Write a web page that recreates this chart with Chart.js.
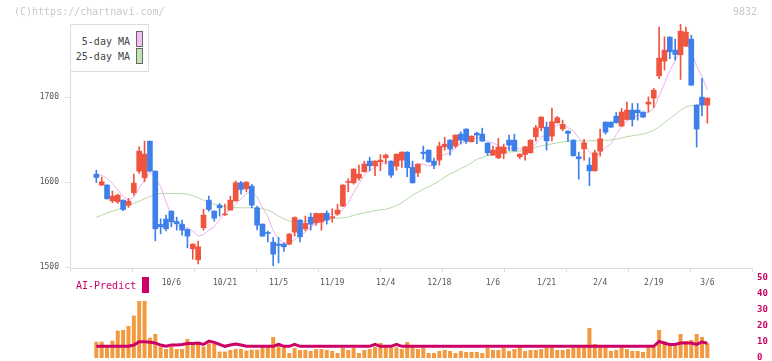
<!DOCTYPE html>
<html>
<head>
<meta charset="utf-8">
<script src="https://cdn.jsdelivr.net/npm/chart.js@4.4.1/dist/chart.umd.min.js"></script>
<style>
  body { margin: 0; background: #fff; }
  #wrap { position: relative; width: 772px; height: 361px; overflow: hidden; font-family: "DejaVu Sans Mono", monospace; }
  canvas { position: absolute; left: 0; top: 0; }
  .txt { position: absolute; white-space: pre; font-size: 10px; line-height: 12px; }
  .gray { color: #c8c8c8; }
  .sw { position: absolute; width: 5px; height: 14px; border: 1px solid #666; }
</style>
</head>
<body>
<div id="wrap">
  <canvas id="priceChart" width="772" height="361"></canvas>
  <canvas id="volChart" width="772" height="390"></canvas>
  <div class="txt gray" style="left:14px;top:6px">(C)https://chartnavi.com/</div>
  <div class="txt gray" style="left:733px;top:6px">9832</div>
  <div style="position:absolute;left:70px;top:24px;width:77px;height:46px;border:1px solid #ddd;background:#fff"></div>
  <div class="txt" style="right:642px;top:36px;color:#444">5-day MA</div>
  <div class="txt" style="right:642px;top:51px;color:#444">25-day MA</div>
  <div class="sw" style="left:136px;top:31px;background:#f0c0f0"></div>
  <div class="sw" style="left:136px;top:48px;background:#c4e2b4"></div>
  <div class="txt" style="left:76px;top:280px;color:#cc0066">AI-Predict</div>
  <div style="position:absolute;left:142px;top:277px;width:7px;height:16px;background:#cc0066"></div>
</div>
<script>
const tickLabels = ['10/6','10/21','11/5','11/19','12/4','12/18','1/6','1/21','2/4','2/19','3/6'];
const priceTicks = [1500, 1600, 1700];

const opens = [1609.4,1596.5,1596.5,1578.0,1576.9,1578.8,1572.9,1587.5,1612.9,1605.1,
  1648.2,1612.9,1550.2,1556.5,1565.9,1553.7,1550.6,1544.3,1521.6,1508.6,
  1546.3,1578.8,1565.9,1572.9,1561.5,1567.1,1578.0,1599.2,1592.2,1595.3,
  1569.8,1550.6,1540.8,1529.4,1527.1,1527.1,1527.1,1541.2,1555.3,1545.1,
  1558.8,1552.2,1553.3,1563.5,1558.0,1562.4,1571.8,1599.6,1599.2,1604.7,
  1612.2,1624.7,1619.2,1623.9,1628.6,1624.7,1618.8,1625.9,1635.3,1617.3,
  1611.0,1635.3,1637.6,1624.7,1625.9,1641.6,1649.4,1642.4,1656.5,1662.4,
  1647.5,1657.6,1656.5,1645.9,1631.8,1628.6,1633.7,1649.4,1649.4,1629.8,
  1632.5,1634.5,1653.3,1663.9,1664.7,1654.1,1669.8,1662.7,1660.0,1649.4,
  1629.8,1639.2,1620.0,1613.3,1636.5,1670.6,1670.6,1677.6,1665.9,1673.7,
  1684.7,1684.7,1682.4,1691.8,1698.8,1725.1,1742.4,1770.6,1755.3,1749.8,
  1760.0,1768.2,1690.6,1700.0,1690.6];
const highs = [1614.1,1605.9,1597.0,1589.4,1585.9,1579.2,1580.8,1609.4,1641.6,1648.2,
  1648.2,1613.3,1556.9,1561.2,1566.3,1558.8,1555.3,1545.0,1527.5,1530.6,
  1568.2,1583.5,1566.3,1574.9,1574.1,1583.5,1601.2,1600.8,1600.5,1597.3,
  1571.8,1551.0,1542.4,1534.9,1534.9,1528.6,1539.6,1559.2,1556.1,1560.0,
  1563.5,1563.5,1563.5,1566.3,1568.6,1574.1,1597.0,1603.9,1615.7,1620.0,
  1624.7,1629.4,1625.1,1632.5,1633.0,1625.1,1633.3,1635.7,1635.7,1624.7,
  1621.6,1642.4,1638.0,1628.2,1647.1,1652.9,1650.0,1655.7,1659.2,1662.7,
  1654.5,1658.8,1663.5,1646.3,1642.4,1651.4,1644.7,1655.3,1656.5,1633.3,
  1642.0,1649.8,1666.7,1677.0,1670.6,1687.1,1677.3,1672.9,1660.4,1649.8,
  1635.3,1650.2,1628.6,1637.6,1662.4,1671.0,1671.0,1682.0,1686.7,1694.1,
  1692.5,1692.5,1682.8,1700.4,1710.2,1782.4,1771.0,1771.0,1768.2,1785.5,
  1782.4,1772.9,1691.0,1722.0,1699.2];
const lows = [1599.6,1595.7,1580.0,1575.7,1574.9,1566.3,1570.2,1584.7,1610.2,1600.4,
  1612.9,1531.0,1539.2,1542.7,1547.5,1543.5,1537.6,1522.7,1509.4,1503.9,
  1543.5,1565.9,1554.1,1560.0,1560.8,1567.0,1577.6,1585.9,1588.6,1569.8,
  1543.9,1536.1,1529.8,1501.6,1505.1,1518.4,1526.3,1536.5,1529.8,1542.7,
  1543.5,1549.4,1543.5,1550.6,1552.9,1561.2,1571.0,1588.6,1597.6,1602.4,
  1611.8,1613.3,1607.5,1613.3,1621.2,1605.5,1614.1,1617.3,1606.3,1598.8,
  1606.3,1627.1,1623.5,1615.7,1620.0,1637.6,1631.8,1640.4,1644.7,1645.5,
  1647.1,1645.1,1648.0,1631.4,1631.4,1627.5,1627.5,1636.9,1636.5,1627.5,
  1625.9,1634.1,1648.6,1660.4,1637.6,1648.6,1669.4,1660.4,1647.5,1630.6,
  1603.5,1625.9,1595.7,1612.9,1630.6,1656.5,1664.3,1669.4,1665.5,1673.3,
  1665.9,1672.9,1676.1,1682.4,1687.8,1721.6,1731.8,1745.1,1743.5,1720.8,
  1759.6,1713.7,1641.2,1678.0,1669.4];
const closes = [1605.5,1600.4,1580.4,1583.5,1584.7,1567.8,1577.6,1598.8,1636.5,1632.9,
  1612.9,1545.1,1547.5,1545.1,1553.3,1551.0,1543.5,1536.5,1527.1,1523.9,
  1561.2,1567.8,1557.6,1569.8,1562.5,1578.8,1599.2,1591.4,1600.0,1572.9,
  1549.4,1536.5,1539.6,1515.3,1525.5,1523.9,1538.8,1558.4,1535.7,1551.4,
  1550.6,1563.1,1563.1,1555.3,1558.8,1567.1,1596.5,1600.4,1615.3,1609.4,
  1621.2,1619.2,1624.7,1625.9,1631.8,1608.2,1632.9,1635.3,1616.9,1599.2,
  1621.2,1633.7,1623.9,1620.0,1642.4,1644.7,1638.8,1655.3,1649.4,1648.2,
  1654.1,1655.3,1648.2,1634.5,1637.6,1641.2,1641.2,1643.5,1636.9,1632.9,
  1641.6,1649.4,1663.9,1676.5,1648.6,1671.0,1675.7,1667.8,1657.3,1631.0,
  1627.5,1646.3,1613.3,1634.5,1651.0,1658.8,1664.7,1669.8,1682.4,1684.7,
  1673.7,1681.6,1676.5,1694.1,1708.2,1745.9,1755.3,1753.3,1750.2,1777.6,
  1776.5,1714.1,1662.4,1690.6,1698.8];

const ma5 = [1608.2,1608.0,1604.5,1598.5,1590.9,1583.4,1578.8,1582.5,1593.1,1602.7,
  1611.7,1605.2,1595.0,1576.7,1560.8,1548.4,1548.1,1545.9,1542.3,1536.4,
  1538.4,1543.3,1547.5,1556.1,1563.8,1567.3,1573.6,1580.3,1586.4,1588.5,
  1582.6,1570.0,1559.7,1542.7,1533.3,1528.2,1528.6,1532.4,1536.5,1541.6,
  1547.0,1551.8,1552.8,1556.7,1558.2,1561.5,1568.2,1575.6,1587.6,1597.7,
  1608.6,1613.1,1618.0,1620.1,1624.6,1622.0,1624.7,1626.8,1625.0,1618.5,
  1621.1,1621.3,1619.0,1619.6,1628.2,1632.9,1634.0,1640.2,1646.1,1647.3,
  1649.2,1652.5,1651.0,1648.1,1645.9,1643.4,1640.5,1639.6,1640.1,1639.1,
  1639.2,1640.9,1644.9,1652.9,1656.0,1661.9,1667.1,1667.9,1664.1,1660.6,
  1651.9,1646.0,1635.1,1630.5,1634.5,1640.8,1644.5,1655.8,1665.3,1672.1,
  1675.1,1678.4,1679.8,1682.1,1686.8,1701.3,1716.0,1731.4,1742.6,1756.5,
  1762.6,1754.3,1736.2,1724.2,1708.5];
const ma25 = [1558.5,1561.0,1563.9,1566.0,1567.8,1570.0,1572.9,1575.0,1577.5,1580.5,
  1583.0,1586.0,1586.7,1586.7,1586.7,1586.7,1586.5,1585.9,1584.0,1581.5,
  1578.8,1576.0,1574.0,1572.0,1571.0,1570.2,1570.0,1569.8,1569.8,1569.8,
  1569.5,1569.0,1567.0,1564.0,1560.0,1557.0,1554.0,1553.5,1553.5,1554.0,
  1554.5,1555.0,1555.5,1556.0,1557.0,1557.5,1558.0,1559.0,1561.0,1562.5,
  1563.9,1565.0,1566.5,1567.5,1568.0,1570.0,1572.5,1576.0,1580.0,1585.0,
  1588.0,1592.0,1594.5,1598.0,1601.5,1606.0,1609.5,1612.5,1616.0,1619.0,
  1622.5,1627.0,1629.0,1631.0,1632.0,1633.5,1635.0,1635.5,1635.8,1636.5,
  1637.6,1639.0,1641.0,1642.5,1643.8,1645.0,1646.2,1647.2,1648.2,1648.6,
  1648.6,1648.6,1648.6,1648.8,1649.0,1649.3,1649.6,1650.5,1652.0,1653.5,
  1654.5,1655.5,1656.5,1658.5,1661.0,1665.0,1670.0,1675.0,1679.5,1684.5,
  1688.5,1690.0,1690.5,1691.0,1691.5];

const volume = [10.2,10.2,7.5,10.8,17.1,17.5,20.0,26.5,35.6,35.6,
  12.7,15.0,7.1,5.6,7.1,5.6,5.6,11.9,8.5,9.8,
  7.1,9.2,8.8,4.0,4.0,5.0,5.6,5.6,4.6,5.2,
  5.2,6.7,6.7,13.1,9.4,6.7,3.1,6.3,5.0,5.0,
  4.4,5.6,5.6,5.0,4.4,3.1,6.3,5.0,6.3,3.1,
  5.0,5.6,6.9,9.4,6.7,6.7,6.7,5.6,10.0,6.7,
  5.6,6.3,3.1,3.1,4.4,5.0,4.4,3.1,4.4,3.8,
  3.8,3.8,3.1,6.3,5.0,5.0,6.3,4.4,5.6,6.7,
  4.4,5.0,5.0,5.6,6.7,6.7,5.0,5.0,5.6,6.7,
  6.7,6.7,18.8,8.8,6.7,6.7,4.4,5.0,6.7,5.6,
  4.4,4.4,3.8,6.7,6.7,17.5,10.6,8.1,7.5,15.0,
  10.6,11.3,15.0,13.1,9.2];
const aiPredict = [7.3,7.3,7.3,7.3,7.3,7.3,7.3,8.1,10.2,10.2,
  9.8,9.4,8.1,7.3,8.1,8.1,8.5,9.0,9.0,9.4,
  8.5,10.6,9.8,8.5,7.3,8.1,8.8,8.1,7.3,7.3,
  7.3,7.3,7.3,7.3,8.5,7.3,7.3,8.5,7.3,7.3,
  7.3,7.3,7.3,7.3,7.3,7.3,7.3,7.3,7.3,7.3,
  7.3,7.3,8.5,7.3,7.3,7.3,8.5,7.3,7.3,7.3,
  7.3,7.3,7.3,7.3,7.3,7.3,7.3,7.3,7.3,7.3,
  7.3,7.3,7.3,7.3,7.3,7.3,7.3,7.3,7.3,7.3,
  7.3,7.3,7.3,7.3,7.3,7.3,7.3,7.3,7.3,7.3,
  7.3,7.3,7.3,7.3,7.3,7.3,7.3,7.3,7.3,7.3,
  7.3,7.3,7.3,7.3,7.3,10.4,9.2,8.5,8.5,9.4,
  9.4,9.4,8.5,10.0,9.2];

var xMin = -4.91, xMax = 122.33;
var upColor = '#f05540', downColor = '#3f7fea';
var monoFont = 'DejaVu Sans Mono';

function candleColor(i) {
  return closes[i] >= opens[i] ? upColor : downColor;
}
function points(values) {
  return values.map(function(v, i) { return {x: i, y: v}; });
}

var idx = closes.map(function(c, i) { return i; });
var colors = idx.map(candleColor);

new Chart(document.getElementById('priceChart'), {
  type: 'bar',
  data: {
    datasets: [{
      data: idx.map(function(i) { return {x: i, y: [opens[i], closes[i]]}; }),
      backgroundColor: colors,
      barThickness: 5,
      minBarLength: 1,
      grouped: false,
      order: 0
    }, {
      data: idx.map(function(i) { return {x: i, y: [lows[i], highs[i]]}; }),
      backgroundColor: colors,
      barThickness: 1,
      grouped: false,
      order: 1
    }, {
      type: 'line',
      data: points(ma5),
      borderColor: '#e8b2ec',
      borderWidth: 1,
      pointRadius: 0,
      order: 2
    }, {
      type: 'line',
      data: points(ma25),
      borderColor: '#b6daa6',
      borderWidth: 1,
      pointRadius: 0,
      order: 3
    }]
  },
  options: {
    responsive: false,
    animation: false,
    layout: { padding: { left: 0, right: 20, top: 24, bottom: 0 } },
    plugins: { legend: { display: false }, tooltip: { enabled: false } },
    scales: {
      x: {
        type: 'linear',
        min: xMin,
        max: xMax,
        offset: false,
        afterFit: function(scale) { scale.height = 93; },
        afterBuildTicks: function(scale) {
          var ticks = [];
          for (var k = 0; k <= 11; k++) {
            ticks.push({value: xMin + (xMax - xMin) * k / 11, mark: true});
          }
          tickLabels.forEach(function(t, k) {
            ticks.push({value: closes.length - 1 - (tickLabels.length - 1 - k) * 10, name: t});
          });
          scale.ticks = ticks;
        },
        grid: {
          drawOnChartArea: false,
          tickLength: 4,
          offset: false,
          color: function(ctx) { return ctx.tick && ctx.tick.mark ? '#dcdcdc' : 'rgba(0,0,0,0)'; }
        },
        border: { color: '#dcdcdc' },
        ticks: {
          autoSkip: false,
          maxRotation: 0,
          padding: 6,
          color: '#555',
          font: { family: monoFont, size: 8 },
          callback: function(value, index, ticks) { return ticks[index].name || ''; }
        }
      },
      y: {
        min: 1499,
        max: 1786,
        afterFit: function(scale) { scale.width = 70; },
        afterBuildTicks: function(scale) {
          scale.ticks = priceTicks.map(function(v) { return {value: v}; });
        },
        grid: { drawOnChartArea: false, tickLength: 5, color: '#dcdcdc' },
        border: { color: '#dcdcdc' },
        ticks: {
          padding: 6,
          color: '#555',
          font: { family: monoFont, size: 8 },
          callback: function(value) { return String(value); }
        }
      }
    }
  }
});

var volChart = new Chart(document.getElementById('volChart'), {
  type: 'bar',
  data: {
    datasets: [{
      type: 'line',
      data: points(aiPredict),
      borderColor: '#cc0066',
      borderWidth: 3,
      pointRadius: 0,
      order: 0
    }, {
      data: points(volume),
      backgroundColor: '#f29a40',
      barThickness: 4,
      inflateAmount: 0,
      order: 1
    }]
  },
  options: {
    responsive: false,
    animation: false,
    layout: { padding: { left: 70, right: 0, top: 278, bottom: 32 } },
    plugins: { legend: { display: false }, tooltip: { enabled: false } },
    scales: {
      x: {
        type: 'linear', min: xMin, max: xMax, offset: false, display: false,
        grid: { drawTicks: false, tickLength: 0 },
        afterFit: function(scale) { scale.height = 0; }
      },
      y: {
        position: 'right',
        min: 0,
        max: 50,
        afterFit: function(scale) { scale.width = 20; },
        grid: { display: false, drawTicks: false },
        border: { display: false },
        ticks: {
          stepSize: 10,
          padding: 5,
          color: '#cc0066',
          font: { family: monoFont, size: 9, weight: 'bold' }
        }
      }
    }
  }
});

// the volume panel must end at y=358, nudge the padding until it does
var pad = volChart.options.layout.padding;
pad.bottom += volChart.chartArea.bottom - 358;
pad.top -= volChart.chartArea.top - 278;
volChart.update();
</script>
</body>
</html>
